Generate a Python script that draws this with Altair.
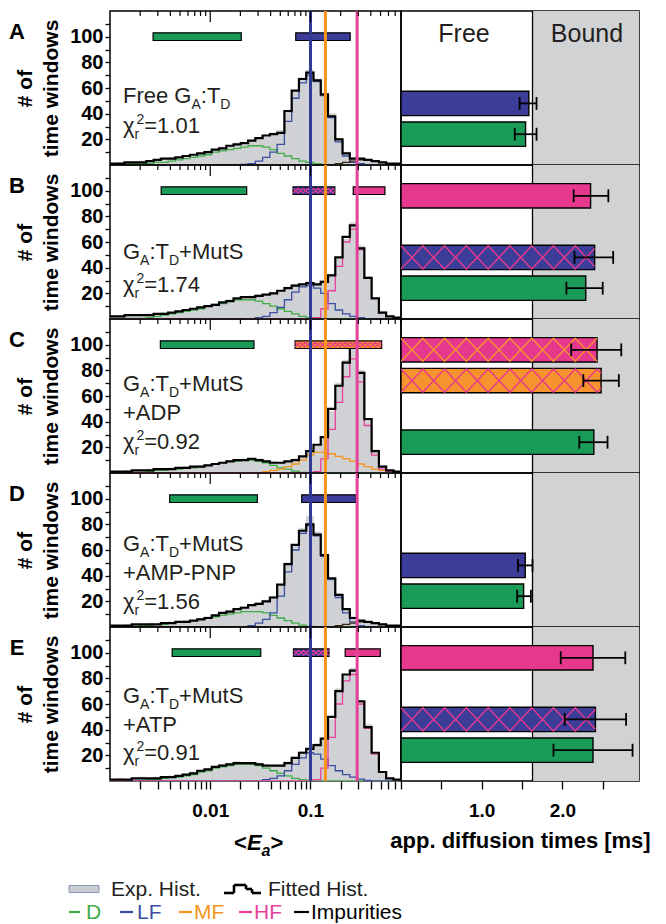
import math
import altair as alt
import pandas as pd

# ------------------------------------------------------------------ data
ROWS = ["A", "B", "C", "D", "E"]

# 40 log-spaced bins of <Ea> from 10^-3 to 10^-0.1
LOG_START, LOG_STOP, N_BINS = -3.0, -0.1, 40
EDGES = [10 ** (LOG_START + (LOG_STOP - LOG_START) * i / N_BINS) for i in range(N_BINS + 1)]

EXP_A = [1,2,1,2,3, 3,4,4,6,6, 7,7,9,11,12, 14,15,17,16,19, 20,22,25,27,40, 57,68,74,67,56, 40,21,10,6,5, 3,3,2,1,1]
FIT_A = [1,1,2,2,2, 3,4,5,5,6, 7,8,9,10,12, 13,15,16,17,19, 21,23,24,25,42, 58,67,72,66,55, 38,20,9,5,5, 4,3,2,1,1]
D_A   = [0.5,0.5,1,1,1, 1,2,2,3,4, 5,6,7,8,10, 11,12,13,14,15, 15,14,12,9,7, 5,3,2,1,0.5, 0,0,0,0,0, 0,0,0,0,0]
LF_A  = [0,0,0,0,0, 0,0,0,0,0, 0,0,0,0,0, 0,0,0,0.5,1, 3,6,10,16,34, 52,64,70,65,54, 37,18,7,2,1, 0,0,0,0,0]
IMP_A = [0,0,0,0,0, 0,0,0,0,0, 0,0,0,0,0, 0,0,0,0,0, 0,0,0,0,0, 0,0,0,0,0, 0,1,2,3,4, 4,3,2,1,0.5]

EXP_B = [1,2,3,2,3, 4,4,5,5,6, 7,8,10,10,12, 12,15,16,16,18, 19,18,21,22,25, 27,26,29,28,30, 35,47,62,75,57, 33,15,6,2,1]
FIT_B = [2,2,3,3,3, 3,4,4,5,6, 7,8,9,10,11, 13,14,16,17,17, 18,19,20,22,24, 26,27,28,27,29, 34,48,64,73,55, 32,16,5,2,1]
D_B   = [0.5,0.5,0.5,0.5,0.5, 1,2,3,4,5, 6,7,8,10,11, 12,14,15,15,15, 14,12,10,8,6, 4,2,1,0.5,0, 0,0,0,0,0, 0,0,0,0,0]
LF_B  = [0,0,0,0,0, 0,0,0,0,0, 0,0,0,0,0, 0,0,0,0,0, 1,2,5,9,15, 21,25,26,24,20, 12,7,4,2,1, 0,0,0,0,0]
HF_B  = [0,0,0,0,0, 0,0,0,0,0, 0,0,0,0,0, 0,0,0,0,0, 0,0,0,0,0, 0,0,0,1,8, 22,41,60,70,54, 32,16,5,2,1]

EXP_C = [1,1,2,1,2, 3,3,3,4,4, 5,5,6,6,7, 8,9,9,11,11, 11,10,9,8,9, 11,12,16,21,27, 48,70,88,100,80, 40,18,6,2,1]
FIT_C = [1,1,1,2,2, 2,3,3,3,4, 4,5,5,6,7, 8,9,10,10,11, 10,9,8,8,9, 10,13,17,22,28, 50,68,86,98,78, 42,17,5,2,1]
D_C   = [0,0,0.5,0.5,0.5, 1,2,2,3,3, 4,4,5,6,7, 8,9,9,10,10, 9,8,6,4,3, 1.5,0.5,0,0,0, 0,0,0,0,0, 0,0,0,0,0]
MF_C  = [0,0,0,0,0, 0,0,0,0,0, 0,0,0,0,0, 0,0,0,0,0, 0,1,2,3,5, 7,10,14,16,16, 15,13,11,9,7, 5,3,2,1,0.5]
HF_C  = [0,0,0,0,0, 0,0,0,0,0, 0,0,0,0,0, 0,0,0,0,0, 0,0,0,0,0, 0,0,0,1,11, 34,55,75,89,71, 37,14,3,1,0.5]

EXP_D = [1,1,2,2,2, 3,2,3,4,4, 5,5,6,8,9, 10,13,13,16,16, 19,21,24,32,50, 63,77,86,74,57, 36,26,13,8,5, 4,3,2,1,1]
FIT_D = [1,1,1,2,2, 2,2,3,3,4, 4,5,6,7,9, 11,12,14,15,17, 18,20,23,33,49, 64,75,80,72,56, 38,25,14,7,5, 4,3,2,1,1]
D_D   = [0,0.5,0.5,0.5,1, 1,2,2,3,4, 4,5,6,7,8, 9,10,11,12,12, 12,11,9,7,5, 3,1.5,0.5,0,0, 0,0,0,0,0, 0,0,0,0,0]
LF_D  = [0,0,0,0,0, 0,0,0,0,0, 0,0,0,0,0, 0,0,0,0,1, 3,6,11,24,43, 60,73,79,71,55, 37,23,11,4,1, 0,0,0,0,0]
IMP_D = [0,0,0,0,0, 0,0,0,0,0, 0,0,0,0,0, 0,0,0,0,0, 0,0,0,0,0, 0,0,0,0,0, 0,1,2,3,4, 4,3,2,1,0.5]

EXP_E = [1,2,1,2,3, 2,3,3,4,4, 5,7,8,10,11, 13,14,15,14,13, 14,13,11,12,15, 17,23,24,29,32, 48,72,82,88,60, 44,20,7,2,1]
FIT_E = [1,1,1,2,2, 2,2,3,3,4, 5,6,8,9,11, 12,13,14,14,14, 13,12,12,12,14, 18,22,25,28,33, 50,70,83,86,62, 42,22,7,2,1]
D_E   = [0,0,0,0,0.5, 1,1,2,3,3, 4,5,7,8,10, 11,12,13,13,13, 12,10,8,6,4, 2,1,0.5,0,0, 0,0,0,0,0, 0,0,0,0,0]
LF_E  = [0,0,0,0,0, 0,0,0,0,0, 0,0,0,0,0, 0,0,0,0,0, 0,1,2,4,8, 13,18,22,21,17, 12,8,5,3,1.5, 0.5,0,0,0,0]
HF_E  = [0,0,0,0,0, 0,0,0,0,0, 0,0,0,0,0, 0,0,0,0,0, 0,0,0,0,0, 0,0,0,1,10, 34,60,78,83,60, 41,21,7,2,1]

EXP = {"A": EXP_A, "B": EXP_B, "C": EXP_C, "D": EXP_D, "E": EXP_E}
FIT = {"A": FIT_A, "B": FIT_B, "C": FIT_C, "D": FIT_D, "E": FIT_E}
COMPS = {
    "A": {"D": D_A, "LF": LF_A, "Imp": IMP_A},
    "B": {"D": D_B, "LF": LF_B, "HF": HF_B},
    "C": {"D": D_C, "MF": MF_C, "HF": HF_C},
    "D": {"D": D_D, "LF": LF_D, "Imp": IMP_D},
    "E": {"D": D_E, "LF": LF_E, "HF": HF_E},
}

# state positions (vertical lines) in <Ea>
STATE_E = [0.1, 0.141, 0.292]
STATE_C = ["#333a95", "#f7941d", "#e2449a"]

GREEN = "#1a9c58"
BLUE = "#3b3d98"
PINK = "#e6398e"
ORANGE = "#f6932f"

# range bars above the histograms: (lo, hi, fill, hatch colour)
RANGE = {
    "A": [(0.00269, 0.0204, GREEN, None), (0.0713, 0.249, BLUE, None)],
    "B": [(0.00324, 0.0231, GREEN, None), (0.067, 0.175, BLUE, PINK), (0.267, 0.553, PINK, None)],
    "C": [(0.00318, 0.0273, GREEN, None), (0.0702, 0.513, ORANGE, PINK)],
    "D": [(0.00394, 0.0295, GREEN, None), (0.0818, 0.284, BLUE, None)],
    "E": [(0.00417, 0.0319, GREEN, None), (0.0676, 0.153, BLUE, PINK), (0.222, 0.497, PINK, None)],
}

# diffusion-time bars: (slot, value, err_lo, err_hi, fill, hatch colour)
BARS = {
    "A": [(48, 1.585, 1.47, 1.68, BLUE, None), (24, 1.544, 1.41, 1.68, GREEN, None)],
    "B": [(96, 2.35, 2.14, 2.57, PINK, None), (48, 2.40, 2.15, 2.63, BLUE, PINK), (24, 2.29, 2.05, 2.50, GREEN, None)],
    "C": [(96, 2.43, 2.11, 2.73, PINK, ORANGE), (72, 2.48, 2.26, 2.70, ORANGE, PINK), (24, 2.39, 2.21, 2.56, GREEN, None)],
    "D": [(48, 1.54, 1.45, 1.63, BLUE, None), (24, 1.52, 1.44, 1.61, GREEN, None)],
    "E": [(96, 2.38, 1.98, 2.78, PINK, None), (48, 2.41, 2.03, 2.79, BLUE, PINK), (24, 2.38, 1.89, 2.87, GREEN, None)],
}
BOUND_START = 1.63
RIGHT_MAX = 2.95

GTD = [("G", "n"), ("A", "sub"), (":T", "n"), ("D", "sub"), ("+MutS", "n")]
def chi(v):
    return [("χ", "n"), ("r", "sub"), ("2", "sup"), ("=" + v, "n")]
TEXTS = {
    "A": [[("Free G", "n"), ("A", "sub"), (":T", "n"), ("D", "sub")], chi("1.01")],
    "B": [GTD, chi("1.74")],
    "C": [GTD, [("+ADP", "n")], chi("0.92")],
    "D": [GTD, [("+AMP-PNP", "n")], chi("1.56")],
    "E": [GTD, [("+ATP", "n")], chi("0.91")],
}
BASELINES = {"A": [92, 122], "B": [94, 127], "C": [72, 101, 130], "D": [78, 107, 136], "E": [76, 105, 133]}

LOG_TICKS = [0.002, 0.003, 0.004, 0.005, 0.006, 0.007, 0.008, 0.009, 0.01,
             0.02, 0.03, 0.04, 0.05, 0.06, 0.07, 0.08, 0.09, 0.1,
             0.2, 0.3, 0.4, 0.5, 0.6, 0.7, 0.8]
MAJOR_TICKS = [0.01, 0.1]

COMP_COLORS = {"D": "#41ad49", "LF": "#3a4fa1", "MF": "#f7941d", "HF": "#e8409a", "Imp": "#3c2415"}
HIST_GRAY = "#cfd1d4"
BG_GRAY = "#d1d2d4"
TXT = "#231f20"

# ------------------------------------------------------------------ layout
W_L, W_R, H = 291, 238, 154
XS = alt.Scale(type="log", domain=[0.001, 0.8], nice=False)
YS = alt.Scale(domain=[0, 120], nice=False, zero=False)
XR = alt.Scale(domain=[0, RIGHT_MAX], nice=False, zero=False)
ONE = pd.DataFrame({"o": [0]})

AW = {' ': 278, '+': 584, '-': 333, ':': 278, '=': 584, '.': 278, 'A': 667, 'D': 722,
      'F': 611, 'G': 778, 'M': 833, 'N': 722, 'P': 667, 'S': 667, 'T': 611, 'e': 556,
      'r': 333, 't': 278, 'u': 556, 'χ': 520}


def tw(s, size):
    return sum(AW.get(c, 556) for c in s) * size / 1000.0


def txt(t, x, y, size, color=TXT, weight="normal", style="normal", align="left", baseline="alphabetic"):
    return alt.Chart(ONE).mark_text(text=t, fontSize=size, fontWeight=weight, fontStyle=style,
                                    color=color, align=align, baseline=baseline).encode(
        x=alt.value(x), y=alt.value(y))


def seg(x1, x2, y1, y2, color="black", w=2.0):
    return alt.Chart(ONE).mark_rule(color=color, strokeWidth=w).encode(
        x=alt.value(x1), x2=alt.value(x2), y=alt.value(y1), y2=alt.value(y2))


def rich_line(segs, x0, base):
    out = []
    x = x0
    sub_start = None
    for t, kind in segs:
        if kind == "n":
            out.append(txt(t, x, base, 22))
            x += tw(t, 22)
            sub_start = None
        elif kind == "sub":
            out.append(txt(t, x, base + 6, 14))
            sub_start = x
            x += tw(t, 14)
        else:
            xx = sub_start + 2 if sub_start is not None else x
            out.append(txt(t, xx, base - 9, 14))
            x = max(x, xx + tw(t, 14))
    return out


def zigzag(x0, x1, ya, yb, h, col, key):
    rows = []
    for ph in (0, 1):
        k = 0
        prev = None
        while True:
            xk = x0 + k * h
            yk = ya if (k + ph) % 2 == 0 else yb
            if xk >= x1:
                xp, yp = prev
                t = (x1 - xp) / (xk - xp)
                rows.append(dict(id=f"{key}_{ph}", k=k, x=x1, y=yp + (yk - yp) * t, c=col))
                break
            rows.append(dict(id=f"{key}_{ph}", k=k, x=xk, y=yk, c=col))
            prev = (xk, yk)
            k += 1
    return rows


def step_df(vals, name, col):
    rows = [dict(s=name, c=col, x=EDGES[i], v=vals[i]) for i in range(N_BINS)]
    rows.append(dict(s=name, c=col, x=EDGES[-1], v=vals[-1]))
    return rows


def left_panel(r):
    bottom = r == "E"
    xb = alt.Axis(values=LOG_TICKS, labelExpr="datum.value == 0.01 ? '0.01' : (datum.value == 0.1 ? '0.1' : '')",
                  tickSize=8, tickWidth=1.3, tickColor="black", labelFontSize=19, labelFontWeight="bold",
                  labelColor="black", labelPadding=12, labelOverlap=False, labelFlush=False,
                  domain=False, grid=False, title=None) if bottom else None
    ya = alt.Axis(values=list(range(10, 120, 10)),
                  labelExpr="datum.value % 20 == 0 && datum.value <= 100 ? datum.label : ''",
                  tickSize=5, tickWidth=1.3, tickColor="black", labelFontSize=20, labelFontWeight="bold",
                  labelColor="black", labelPadding=2, labelOverlap=False, domain=False, grid=False,
                  title=["# of", "time windows"], titleFontSize=21, titleFontWeight="bold",
                  titleColor="black", titlePadding=8, titleLineHeight=26)
    hist = pd.DataFrame({"lo": EDGES[:-1], "hi": EDGES[1:], "v": EXP[r], "z": 0})
    layers = [alt.Chart(hist).mark_rect(color=HIST_GRAY, stroke=HIST_GRAY, strokeWidth=0.6).encode(
        x=alt.X("lo:Q", scale=XS, axis=xb), x2="hi:Q",
        y=alt.Y("v:Q", scale=YS, axis=ya), y2="z:Q")]
    crow = []
    for name, vals in COMPS[r].items():
        crow += step_df(vals, name, COMP_COLORS[name])
    layers.append(alt.Chart(pd.DataFrame(crow)).mark_line(interpolate="step-after", strokeWidth=1.3, clip=True).encode(
        x=alt.X("x:Q", scale=XS, axis=None), y=alt.Y("v:Q", scale=YS, axis=None),
        color=alt.Color("c:N", scale=None), detail="s:N"))
    layers.append(alt.Chart(pd.DataFrame(step_df(FIT[r], "fit", "black"))).mark_line(
        interpolate="step-after", strokeWidth=2.2, color="black", clip=True).encode(
        x=alt.X("x:Q", scale=XS, axis=None), y=alt.Y("v:Q", scale=YS, axis=None)))
    rb = pd.DataFrame([dict(lo=a, hi=b, y0=97, y1=103, f=f) for a, b, f, _ in RANGE[r]])
    layers.append(alt.Chart(rb).mark_rect(stroke="black", strokeWidth=1.2).encode(
        x=alt.X("lo:Q", scale=XS, axis=None), x2="hi:Q",
        y=alt.Y("y0:Q", scale=YS, axis=None), y2="y1:Q", fill=alt.Fill("f:N", scale=None)))
    hrows = []
    for j, (a, b, f, hc) in enumerate(RANGE[r]):
        if hc:
            for row in zigzag(math.log10(a), math.log10(b), 98.2, 101.8, 0.05, hc, f"rb{j}"):
                row["x"] = 10 ** row["x"]
                hrows.append(row)
    if hrows:
        layers.append(alt.Chart(pd.DataFrame(hrows)).mark_line(strokeWidth=1.1, clip=True).encode(
            x=alt.X("x:Q", scale=XS, axis=None), y=alt.Y("y:Q", scale=YS, axis=None),
            color=alt.Color("c:N", scale=None), detail="id:N", order="k:Q"))
    layers.append(alt.Chart(pd.DataFrame({"x": STATE_E, "c": STATE_C})).mark_rule(strokeWidth=3).encode(
        x=alt.X("x:Q", scale=XS, axis=None), color=alt.Color("c:N", scale=None)))
    minor = [t for t in LOG_TICKS if t not in MAJOR_TICKS]
    layers.append(alt.Chart(pd.DataFrame({"t": minor})).mark_rule(color="black", strokeWidth=1.2).encode(
        x=alt.X("t:Q", scale=XS, axis=None), y=alt.value(0), y2=alt.value(5)))
    layers.append(alt.Chart(pd.DataFrame({"t": MAJOR_TICKS})).mark_rule(color="black", strokeWidth=1.2).encode(
        x=alt.X("t:Q", scale=XS, axis=None), y=alt.value(0), y2=alt.value(11)))
    for segs, base in zip(TEXTS[r], BASELINES[r]):
        layers += rich_line(segs, 13, base)
    layers.append(txt(r, -93, 28, 22, color="black", weight="bold", align="center"))
    if bottom:
        # axis title <Ea>
        layers.append(txt("<", 124, H + 69, 22, color="black", weight="bold"))
        layers.append(txt("E", 137, H + 69, 22, color="black", weight="bold", style="italic"))
        layers.append(txt("a", 151.5, H + 75, 16, color="black", weight="bold", style="italic"))
        layers.append(txt(">", 160.5, H + 69, 22, color="black", weight="bold"))
        # legend
        y1, y2 = 262, 285
        layers.append(alt.Chart(ONE).mark_rect(fill="#c9ccd3", stroke="#8d9ab7", strokeWidth=1).encode(
            x=alt.value(-41), x2=alt.value(-11), y=alt.value(y1 - 3.5), y2=alt.value(y1 + 3.5)))
        layers.append(txt("Exp. Hist.", 1, y1 + 7, 21))
        for a, b, c, d in [(114, 124, y1 + 4, y1 + 4), (124, 124, y1 + 4, y1 - 4), (124, 136, y1 - 4, y1 - 4),
                           (136, 136, y1 - 4, y1), (136, 142, y1, y1), (142, 142, y1, y1 + 4),
                           (142, 151, y1 + 4, y1 + 4)]:
            layers.append(seg(a, b, c, d, "black", 2.6))
        layers.append(txt("Fitted Hist.", 158, y1 + 7, 21))
        for x1, x2, lab, tx, col in [(-41, -30, "D", -24, COMP_COLORS["D"]), (10, 23, "LF", 27, COMP_COLORS["LF"]),
                                     (69, 82, "MF", 84, COMP_COLORS["MF"]), (129, 142, "HF", 144, COMP_COLORS["HF"]),
                                     (184, 199, "Impurities", 201, "black")]:
            layers.append(seg(x1, x2, y2, y2, col, 2.2))
            layers.append(txt(lab, tx, y2 + 7, 21, color=col))
    return alt.layer(*layers).resolve_axis(x="independent", y="independent").properties(width=W_L, height=H)


def right_panel(r):
    bottom = r == "E"
    xa = alt.Axis(values=[0.5, 1, 1.5, 2, 2.5],
                  labelExpr="datum.value == 1 ? '1.0' : (datum.value == 2 ? '2.0' : '')",
                  tickSize=8, tickWidth=1.3, tickColor="black", labelFontSize=19, labelFontWeight="bold",
                  labelColor="black", labelPadding=12, labelOverlap=False, domain=False, grid=False,
                  title="app. diffusion times [ms]", titleFontSize=22, titleFontWeight="bold",
                  titleColor="black", titlePadding=10) if bottom else None
    layers = [alt.Chart(pd.DataFrame({"a": [BOUND_START], "b": [RIGHT_MAX]})).mark_rect(color=BG_GRAY).encode(
        x=alt.X("a:Q", scale=XR, axis=xa), x2="b:Q", y=alt.value(0), y2=alt.value(H))]
    layers.append(alt.Chart(pd.DataFrame({"a": [BOUND_START]})).mark_rule(color="black", strokeWidth=1.3).encode(
        x=alt.X("a:Q", scale=XR, axis=None)))
    bars = pd.DataFrame([dict(x0=0, v=v, ylo=s - 9.5, yhi=s + 9.5, f=f) for s, v, lo, hi, f, hc in BARS[r]])
    layers.append(alt.Chart(bars).mark_rect(stroke="black", strokeWidth=1.4).encode(
        x=alt.X("x0:Q", scale=XR, axis=None), x2="v:Q",
        y=alt.Y("ylo:Q", scale=YS, axis=None), y2="yhi:Q", fill=alt.Fill("f:N", scale=None)))
    hrows = []
    for j, (s, v, lo, hi, f, hc) in enumerate(BARS[r]):
        if hc:
            hrows += zigzag(0.0, v, s - 9.0, s + 9.0, 0.27, hc, f"b{j}")
    if hrows:
        layers.append(alt.Chart(pd.DataFrame(hrows)).mark_line(strokeWidth=1.4, clip=True).encode(
            x=alt.X("x:Q", scale=XR, axis=None), y=alt.Y("y:Q", scale=YS, axis=None),
            color=alt.Color("c:N", scale=None), detail="id:N", order="k:Q"))
    eb = pd.DataFrame([dict(lo=lo, hi=hi, s=s) for s, v, lo, hi, f, hc in BARS[r]])
    layers.append(alt.Chart(eb).mark_rule(color="black", strokeWidth=1.8).encode(
        x=alt.X("lo:Q", scale=XR, axis=None), x2="hi:Q", y=alt.Y("s:Q", scale=YS, axis=None)))
    caps = pd.DataFrame([dict(x=x, a=s - 5, b=s + 5) for s, v, lo, hi, f, hc in BARS[r] for x in (lo, hi)])
    layers.append(alt.Chart(caps).mark_rule(color="black", strokeWidth=1.8).encode(
        x=alt.X("x:Q", scale=XR, axis=None), y=alt.Y("a:Q", scale=YS, axis=None), y2="b:Q"))
    if r == "A":
        layers.append(txt("Free", 63, 31, 25, align="center"))
        layers.append(txt("Bound", 186, 31, 25, align="center"))
    return alt.layer(*layers).resolve_axis(x="independent", y="independent").properties(width=W_R, height=H)


cells = []
for r in ROWS:
    cells.append(left_panel(r))
    cells.append(right_panel(r))

chart = alt.concat(*cells, columns=2, spacing=0, bounds="flush", padding=0).configure(
    font="Liberation Sans").configure_view(stroke="black", strokeWidth=1.5)

chart.save("out.html", embed_options={"renderer": "svg", "actions": False})
